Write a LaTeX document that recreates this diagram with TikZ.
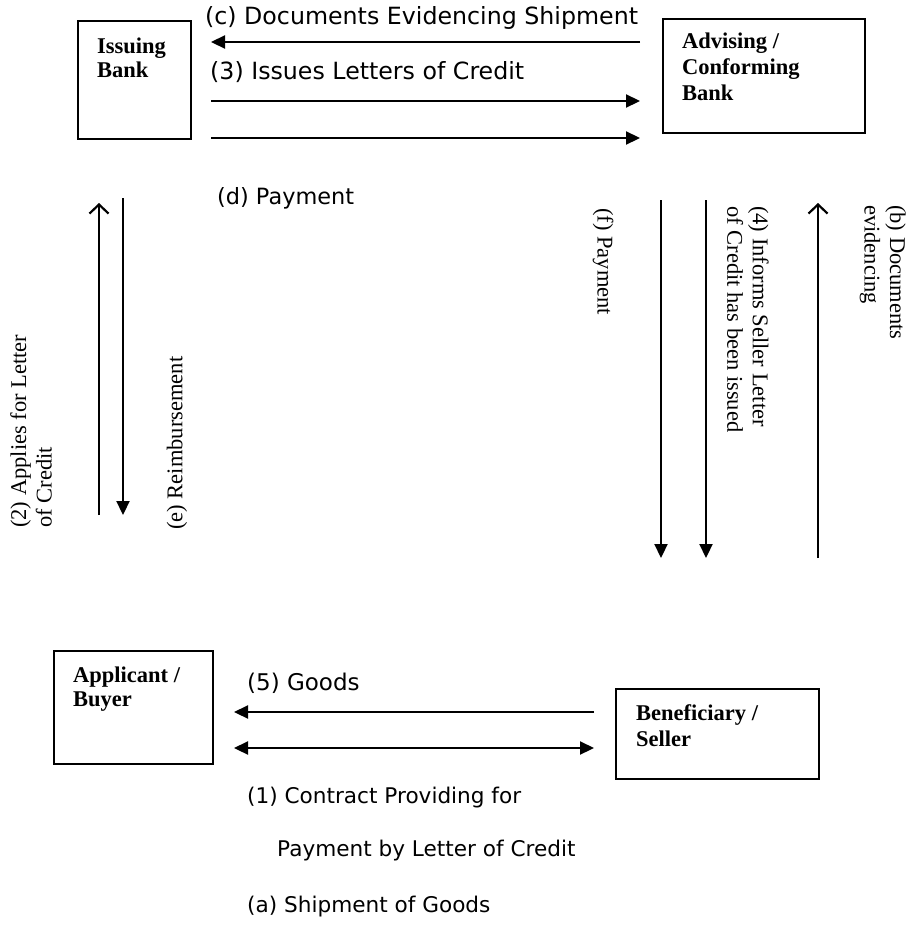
\documentclass[tikz,border=0pt]{standalone}
\usepackage{fontspec}
\setmainfont{Liberation Serif}
\newfontfamily\sansf{DejaVu Sans}
\usetikzlibrary{arrows.meta}
\tikzset{
 box/.style={draw, line width=2.2pt, anchor=north west, inner sep=0pt},
 boxtext/.style={anchor=north west, inner sep=0pt, align=left, font=\fontsize{22.5}{24}\selectfont\bfseries},
 lab/.style={anchor=west, inner sep=0pt, font=\fontsize{23.7}{28}\selectfont\sansf},
 slab/.style={anchor=west, inner sep=0pt, font=\fontsize{21.6}{26}\selectfont\sansf},
 vlab/.style={inner sep=0pt, align=left, font=\fontsize{22.5}{25.5}\selectfont},
 fa/.style={line width=2.2pt, -{Triangle[length=14pt,width=13pt]}},
 oa/.style={line width=2.2pt, -{Straight Barb[length=9pt,width=19pt]}},
 fb/.style={line width=2.2pt, {Triangle[length=14pt,width=13pt]}-{Triangle[length=14pt,width=13pt]}},
}
\begin{document}
\begin{tikzpicture}[x=1pt,y=-1pt]
\useasboundingbox (0,0) rectangle (906,940);
% boxes
\node[box, minimum width=113pt, minimum height=118pt] (ib) at (77,20) {};
\node[boxtext] (ibt) at (97,38) {Issuing\\Bank};
\node[box, minimum width=202pt, minimum height=114pt] (ab) at (662,18) {};
\node[boxtext, font=\fontsize{22.5}{26}\selectfont\bfseries] (abt) at (682,33) {Advising /\\Conforming\\Bank};
\node[box, minimum width=159pt, minimum height=113pt] (ap) at (53,650) {};
\node[boxtext] (apt) at (73,667) {Applicant /\\Buyer};
\node[box, minimum width=203pt, minimum height=90pt] (bf) at (615,688) {};
\node[boxtext, font=\fontsize{22.5}{26}\selectfont\bfseries] (bft) at (636,704) {Beneficiary /\\Seller};
% horizontal labels
\node[lab] (lc) at (205,18) {(c) Documents Evidencing Shipment};
\node[lab] (l3) at (210,72) {(3) Issues Letters of Credit};
\node[lab, font=\fontsize{22.4}{26}\selectfont\sansf] (ld) at (217,198) {(d) Payment};
\node[lab, font=\fontsize{23}{26}\selectfont\sansf] (l5) at (247,683) {(5) Goods};
\node[slab] (l1) at (247,798) {(1) Contract Providing for};
\node[slab] (l1b) at (277,851) {Payment by Letter of Credit};
\node[slab] (la) at (247,907) {(a) Shipment of Goods};
% top horizontal arrows
\coordinate (cR) at (640,42); \coordinate (cL) at (211,42);
\coordinate (tL) at (211,101); \coordinate (tR) at (640,101);
\coordinate (dL) at (211,138); \coordinate (dR) at (640,138);
\draw[fa] (cR) -- (cL);
\draw[fa] (tL) -- (tR);
\draw[fa] (dL) -- (dR);
% bottom horizontal arrows
\coordinate (gR) at (594,712); \coordinate (gL) at (234,712);
\coordinate (kL) at (234,748); \coordinate (kR) at (594,748);
\draw[fa] (gR) -- (gL);
\draw[fb] (kL) -- (kR);
% left vertical arrows
\coordinate (u1b) at (99,515); \coordinate (u1t) at (99,203);
\coordinate (d1t) at (123,198); \coordinate (d1b) at (123,515);
\draw[oa] (u1b) -- (u1t);
\draw[fa] (d1t) -- (d1b);
% right vertical arrows
\coordinate (f1t) at (661,200); \coordinate (f1b) at (661,558);
\coordinate (f2t) at (706,200); \coordinate (f2b) at (706,558);
\coordinate (b1b) at (818,558); \coordinate (b1t) at (818,203);
\draw[fa] (f1t) -- (f1b);
\draw[fa] (f2t) -- (f2b);
\draw[oa] (b1b) -- (b1t);
% vertical labels
\node[vlab, rotate=90, anchor=north west] (l2) at (10,528) {(2) Applies for Letter\\of Credit};
\node[vlab, rotate=90, anchor=west] (le) at (177,530) {(e) Reimbursement};
\node[vlab, rotate=-90, anchor=west] (lf) at (603,208) {(f) Payment};
\node[vlab, rotate=-90, anchor=north west] (l4) at (769,206) {(4) Informs Seller Letter\\of Credit has been issued};
\node[vlab, rotate=-90, anchor=north west] (lb) at (906,205) {(b) Documents\\evidencing};
\end{tikzpicture}
\end{document}
